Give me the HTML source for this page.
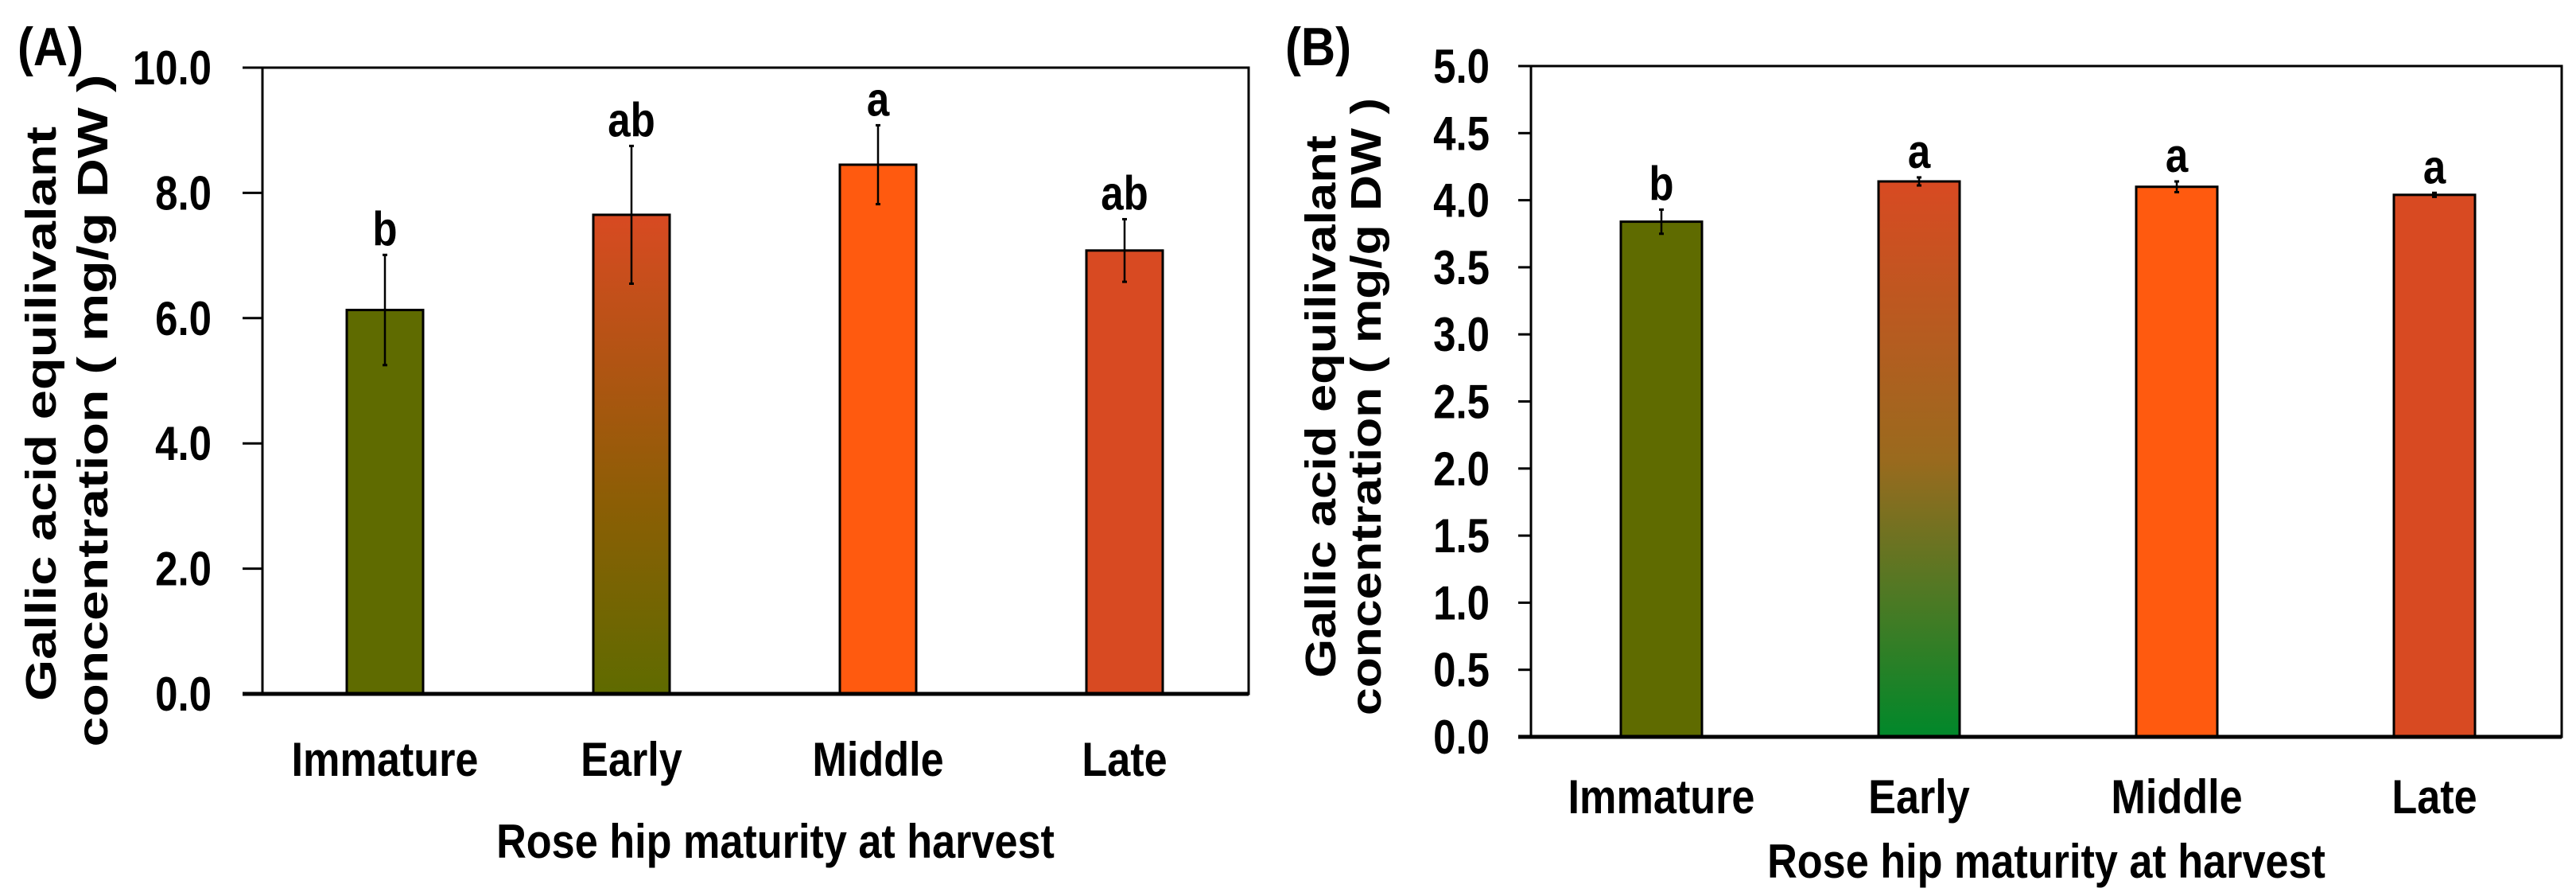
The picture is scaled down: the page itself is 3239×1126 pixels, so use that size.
<!DOCTYPE html>
<html><head><meta charset="utf-8"><style>
html,body{margin:0;padding:0;background:#fff;}
svg{display:block;}
text{font-family:"Liberation Sans",Arial,sans-serif;font-weight:bold;fill:#000;}
</style></head><body>
<svg id="fig" width="3239" height="1126" viewBox="0 0 3239 1126" xmlns="http://www.w3.org/2000/svg">
<defs>
<linearGradient id="gA" x1="0" y1="0" x2="0" y2="1"><stop offset="0" stop-color="#d84a22"/><stop offset="0.6" stop-color="#8c5e05"/><stop offset="1" stop-color="#5f6b00"/></linearGradient>
<linearGradient id="gB" x1="0" y1="0" x2="0" y2="1"><stop offset="0" stop-color="#d84a22"/><stop offset="0.5" stop-color="#9a6a1e"/><stop offset="1" stop-color="#00882a"/></linearGradient>
</defs>
</svg>
<script>
const categories = ["Immature","Early","Middle","Late"];
const valuesA = [6.13, 7.65, 8.45, 7.08];
const errorsA = [0.88, 1.1, 0.63, 0.5];
const lettersA = ["b","ab","a","ab"];
const ticksA = ["0.0","2.0","4.0","6.0","8.0","10.0"];
const valuesB = [3.84, 4.14, 4.10, 4.04];
const errorsB = [0.09, 0.03, 0.04, 0.015];
const lettersB = ["b","a","a","a"];
const ticksB = ["0.0","0.5","1.0","1.5","2.0","2.5","3.0","3.5","4.0","4.5","5.0"];
const fillsA = ["#5f6b00","url(#gA)","#ff5a0f","#d84a22"];
const fillsB = ["#5f6b00","url(#gB)","#ff5a0f","#d84a22"];

const NS="http://www.w3.org/2000/svg";
const svg=document.getElementById('fig');
function el(tag,attrs,parent){const e=document.createElementNS(NS,tag);for(const k in attrs)e.setAttribute(k,attrs[k]);(parent||svg).appendChild(e);return e;}
function ctext(str,x,y,size,anchor,sx,parent){
  const g=el('g',{transform:`translate(${x},${y}) scale(${sx},1)`},parent);
  const t=el('text',{x:0,y:0,'font-size':size,'text-anchor':anchor},g);
  t.textContent=str;return t;
}

function panel(cfg){
  const g=el('g',{});
  
  
  const yS=v=>cfg.base-(v-cfg.min)/(cfg.max-cfg.min)*(cfg.base-cfg.top);
  // frame
  const fr=el('rect',{x:cfg.left,y:cfg.top,width:cfg.right-cfg.left,height:cfg.base-cfg.top,fill:'none',stroke:'#000','stroke-width':3},g);
  
  
  // ticks
  cfg.ticks.forEach(tk=>{
    const v=parseFloat(tk),y=yS(v);
    const l=el('line',{x1:cfg.left-cfg.tickLen,x2:cfg.left,y1:y,y2:y,stroke:'#000','stroke-width':3},g);
    
    
    const t=ctext(tk,cfg.labelRight,y+21,60,'end',0.85,g);
    
    
  });
  // bars
  categories.forEach((c,i)=>{
    const cx=cfg.c0+i*cfg.step,v=cfg.values[i],e=cfg.errors[i];
    const y=yS(v);
    const r=el('rect',{x:cx-cfg.bw/2,y:y,width:cfg.bw,height:cfg.base-y,fill:cfg.fills[i],stroke:'#000','stroke-width':3},g);
    
    
    const eb=el('line',{x1:cx,x2:cx,y1:yS(v+e),y2:yS(v-e),stroke:'#000','stroke-width':2.5},g);
    
    
    [v+e,v-e].forEach(w=>{el('line',{x1:cx-3,x2:cx+3,y1:yS(w),y2:yS(w),stroke:'#000','stroke-width':3},g);});
    const lt=ctext(cfg.letters[i],cx,yS(v+e)-12,60,'middle',0.85,g);
    
    
    const cl=ctext(c,cx,cfg.catY,60,'middle',0.87,g);
    
    
  });
  el('line',{x1:cfg.left-cfg.tickLen,x2:cfg.right,y1:cfg.base,y2:cfg.base,stroke:'#000','stroke-width':5},g);
  const xt=ctext('Rose hip maturity at harvest',cfg.xtX,cfg.xtY,60,'middle',0.87,g);
  
  
  // y title
  cfg.ytLines.forEach(L=>{
    const t=el('text',{x:0,y:0,'font-size':54,'text-anchor':'middle',textLength:L.len,lengthAdjust:'spacingAndGlyphs',transform:`translate(${L.x},${L.cy}) rotate(-90)`},g);
    t.textContent=L.s;
    
    
  });
  const pl=ctext(cfg.label,cfg.labX,cfg.labY,68,'start',0.88,g);
  
  
}

panel({name:'panel-a',left:330,right:1570,top:85,base:872,min:0,max:10,tickLen:25,labelRight:266,
  ticks:ticksA,values:valuesA,errors:errorsA,letters:lettersA,fills:fillsA,c0:484,step:310,bw:96,
  catY:975,xtX:975,xtY:1078,
  ytLines:[{s:'Gallic acid equilivalant',x:70,cy:520,len:722},{s:'concentration ( mg/g DW )',x:135,cy:516,len:845}],
  label:'(A)',labX:22,labY:82});
panel({name:'panel-b',left:1925,right:3221,top:83,base:926,min:0,max:5,tickLen:16,labelRight:1873,
  ticks:ticksB,values:valuesB,errors:errorsB,letters:lettersB,fills:fillsB,c0:2089,step:324,bw:102,
  catY:1022,xtX:2573,xtY:1103,
  ytLines:[{s:'Gallic acid equilivalant',x:1679,cy:511,len:682},{s:'concentration ( mg/g DW )',x:1736,cy:511,len:776}],
  label:'(B)',labX:1616,labY:82});
</script>
</body></html>
